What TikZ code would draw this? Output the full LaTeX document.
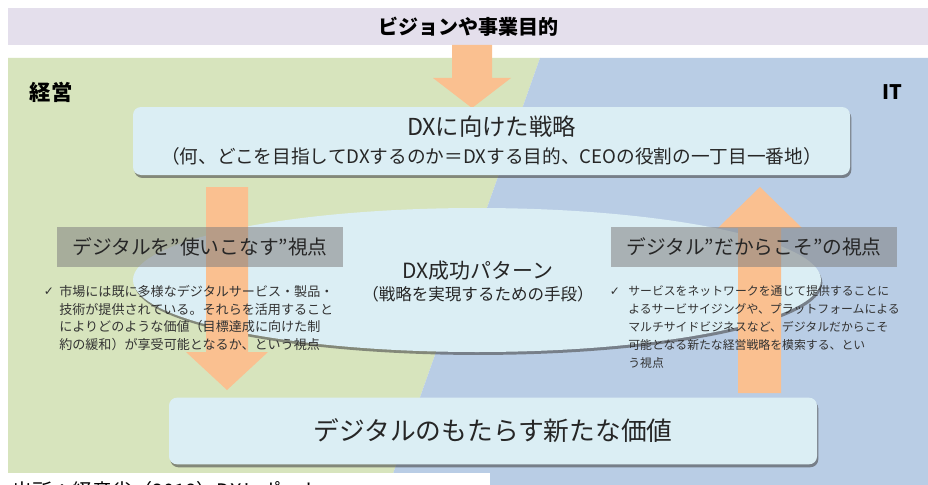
\documentclass[tikz,border=0pt]{standalone}
\usepackage{fontspec}
\setmainfont{Noto Sans CJK JP}
\newfontfamily\dejavu{DejaVu Sans}
\usetikzlibrary{shapes.geometric,shadows}
\definecolor{bandc}{HTML}{E4DFEC}
\definecolor{mgreen}{HTML}{D7E4BD}
\definecolor{mblue}{HTML}{B9CDE5}
\definecolor{arrowc}{HTML}{FAC090}
\definecolor{boxc}{HTML}{DBEEF4}
\definecolor{txtc}{HTML}{262626}
\definecolor{bodyc}{HTML}{333333}
\begin{document}
\begin{tikzpicture}[x=0.75pt,y=-0.75pt,
  shad/.style={drop shadow={shadow xshift=1pt,shadow yshift=-2.2pt,opacity=0.6,fill=black!70}},
  box/.style={rounded corners=6pt,fill=boxc,shad,inner sep=0pt,text=txtc,align=center},
  hdr/.style={fill=gray,fill opacity=0.55,text opacity=1,inner sep=0pt,text=txtc,
    minimum width=214.5pt,minimum height=30pt,font=\fontsize{14.8pt}{16pt}\selectfont},
  arr/.style={fill=arrowc},
  body/.style={anchor=north west,inner sep=0pt,align=left,text=bodyc},
  chk/.style={inner sep=0pt,text=bodyc,font=\dejavu\fontsize{9pt}{10pt}\selectfont}]
\useasboundingbox (0,0) rectangle (928,485);
\fill[white] (0,0) rectangle (928,485);
% backgrounds
\fill[mgreen] (8,58) -- (540,58) -- (389,485) -- (8,485) -- cycle;
\fill[mblue] (540,58) -- (928,58) -- (928,485) -- (389,485) -- cycle;
\node[fill=bandc,minimum width=690pt,minimum height=27.75pt,inner sep=0pt,
  font=\bfseries\fontsize{15pt}{17pt}\selectfont,text=black] (band) at (468,26.5) {ビジョンや事業目的};
\node[font=\bfseries\fontsize{16pt}{18pt}\selectfont,text=black] (keiei) at (51,92) {経営};
\node[font=\bfseries\fontsize{15pt}{18pt}\selectfont,text=black] (it) at (892,92) {IT};
% ellipse
\node[ellipse,fill=boxc,shad,minimum width=516pt,minimum height=108pt,inner sep=0pt] (dxp) at (477,280) {};
\node[align=center,text=txtc,inner sep=0pt,font=\fontsize{12.4pt}{16.5pt}\selectfont] (dxpt) at (478,282)
  {{\fontsize{15.7pt}{16.5pt}\selectfont DX成功パターン}\\（戦略を実現するための手段）};
% arrows
\fill[arr] (452,45) -- (492,45) -- (492,78) -- (511,78) -- (472,108) -- (433,78) -- (452,78) -- cycle;
\fill[arr] (206,187) -- (248,187) -- (248,352) -- (268,352) -- (227,390) -- (186,352) -- (206,352) -- cycle;
\fill[arr] (738,393) -- (781,393) -- (781,228) -- (802,228) -- (760,187) -- (718,228) -- (738,228) -- cycle;
% headers
\node[hdr] (lh) at (200,247) {デジタルを”使いこなす”視点};
\node[hdr] (rh) at (754,247) {デジタル”だからこそ”の視点};
% body texts
\node[chk] (lc) at (49,292) {✓};
\node[body,font=\fontsize{9.8pt}{13.3pt}\selectfont] (lt) at (59,285) {市場には既に多様なデジタルサービス・製品・\\技術が提供されている。それらを活用すること\\によりどのような価値（目標達成に向けた制\\約の緩和）が享受可能となるか、という視点};
\node[chk] (rc) at (615,292) {✓};
\node[body,font=\fontsize{8.9pt}{13.5pt}\selectfont] (rt) at (628,285) {サービスをネットワークを通じて提供することに\\よるサービサイジングや、プラットフォームによる\\マルチサイドビジネスなど、デジタルだからこそ\\可能となる新たな経営戦略を模索する、とい\\う視点};
% boxes
\node[box,minimum width=537.75pt,minimum height=51pt,font=\fontsize{14pt}{21pt}\selectfont] (top) at (491.5,141)
  {{\fontsize{17.5pt}{21pt}\selectfont DXに向けた戦略}\\（何、どこを目指してDXするのか＝DXする目的、CEOの役割の一丁目一番地）};
\node[box,minimum width=486pt,minimum height=50pt,font=\fontsize{19.3pt}{22pt}\selectfont] (bot) at (493,431) {デジタルのもたらす新たな価値};
% caption
\fill[white] (0,473) rectangle (490,485);
\node[anchor=base west,inner sep=0pt,text=black,font=\fontsize{15pt}{18pt}\selectfont] (cap) at (12,498) {出所：経産省（2018）DXレポート};
\end{tikzpicture}
\end{document}
